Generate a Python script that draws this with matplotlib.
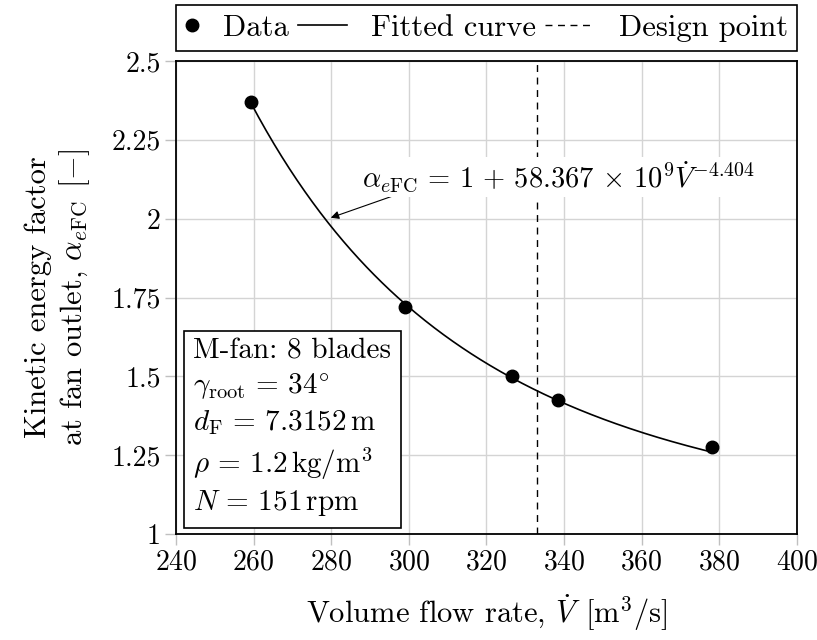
import numpy as np
import matplotlib
matplotlib.use('Agg')
import matplotlib.pyplot as plt
from matplotlib.legend_handler import HandlerLine2D

plt.rcParams['font.family'] = 'serif'
plt.rcParams['font.serif'] = ['cmr10']
plt.rcParams['mathtext.fontset'] = 'cm'
plt.rcParams['axes.formatter.use_mathtext'] = True
plt.rcParams['axes.unicode_minus'] = False

# Measured data (volume flow rate, kinetic energy factor)
flow_rate = [259.3, 299.0, 326.5, 338.5, 378.0]
alpha_efc = [2.37, 1.72, 1.50, 1.425, 1.275]

# Fit given on the chart: alpha = 1 + 58.367e9 * V^-4.404
fit_offset = 1.0
fit_coeff = 58.367e9
fit_exp = -4.404

design_flow = 333.0

x_ticks = [240, 260, 280, 300, 320, 340, 360, 380, 400]
y_ticks = [1, 1.25, 1.5, 1.75, 2, 2.25, 2.5]
y_tick_labels = ['1', '1.25', '1.5', '1.75', '2', '2.25', '2.5']

info_lines = [
    'M-fan: 8 blades',
    r'$\gamma_\mathrm{root} \,=\, 34^{\circ}$',
    r'$d_\mathrm{F} \,=\, 7.3152\,\mathrm{m}$',
    r'$\rho \,=\, 1.2\,\mathrm{kg/m^3}$',
    r'$N \,=\, 151\,\mathrm{rpm}$',
]

FS = 22
TICK_FS = 20


class SmallMarkerHandler(HandlerLine2D):
    # marker-only legend entry gets a narrow handle box
    def legend_artist(self, legend, orig_handle, fontsize, handlebox):
        handlebox.width = 0.45 * fontsize
        return super().legend_artist(legend, orig_handle, fontsize, handlebox)


fig = plt.figure(figsize=(8.17, 6.40), dpi=100)
ax = fig.add_axes([0.2154, 0.1656, 0.7601, 0.7391])

v = np.linspace(min(flow_rate), max(flow_rate), 300)
fit_line, = ax.plot(v, fit_offset + fit_coeff * v ** fit_exp, color='black', lw=1.2, label='Fitted curve', zorder=3)
data_pts, = ax.plot(flow_rate, alpha_efc, 'o', color='black', markersize=9, label='Data', zorder=4)
design_line = ax.axvline(design_flow, color='black', lw=1.0, dashes=(5, 4), label='Design point', zorder=2)

ax.set_xlim(240, 400)
ax.set_ylim(1, 2.5)
ax.set_xticks(x_ticks)
ax.set_yticks(y_ticks)
ax.set_yticklabels(y_tick_labels)
ax.tick_params(labelsize=TICK_FS, direction='out', length=8, width=1, color='#c0c0c0', pad=3)
ax.grid(True, color='#d4d4d4', lw=1.0)
ax.set_axisbelow(True)
for s in ax.spines.values():
    s.set_linewidth(1.3)

ax.set_xlabel(r'Volume flow rate, $\dot{V}\;\,[\mathrm{m}^3/\mathrm{s}]$', fontsize=FS, labelpad=12)
ax.set_ylabel('Kinetic energy factor\n' + r'at fan outlet, $\alpha_{e\mathrm{FC}}\;\,[-]$', fontsize=FS, labelpad=14)

# legend above the axes
leg = ax.legend([data_pts, fit_line, design_line], ['Data', 'Fitted curve', 'Design point'],
                handler_map={data_pts: SmallMarkerHandler()},
                loc='lower left', bbox_to_anchor=(0, 1.021, 1, 0.098), mode='expand',
                ncol=3, fontsize=FS, frameon=True, fancybox=False, edgecolor='black',
                framealpha=1, handlelength=1.6, handletextpad=0.8, borderaxespad=0,
                borderpad=0.3)
leg.get_frame().set_linewidth(1.2)

# equation with arrow to the curve
ax.annotate('', xy=(279.2, 2.0), xytext=(304.7, 2.11),
            arrowprops=dict(arrowstyle='-|>', color='black', lw=0.8, mutation_scale=12))
ax.text(338.5, 2.132,
        r'$\alpha_{e\mathrm{FC}} \,=\, 1 \,+\, 58.367 \,\times\, 10^9 \dot{V}^{-4.404}$',
        fontsize=20.5, ha='center', va='center', zorder=5,
        bbox=dict(facecolor='white', edgecolor='none', pad=2))

# info box
ax.text(0.028, 0.033, '\n'.join(info_lines), transform=ax.transAxes, fontsize=21,
        ha='left', va='bottom', linespacing=1.3, zorder=6,
        bbox=dict(boxstyle='square,pad=0.33', facecolor='white', edgecolor='black', lw=1.2))

fig.savefig('out.png', dpi=100)
